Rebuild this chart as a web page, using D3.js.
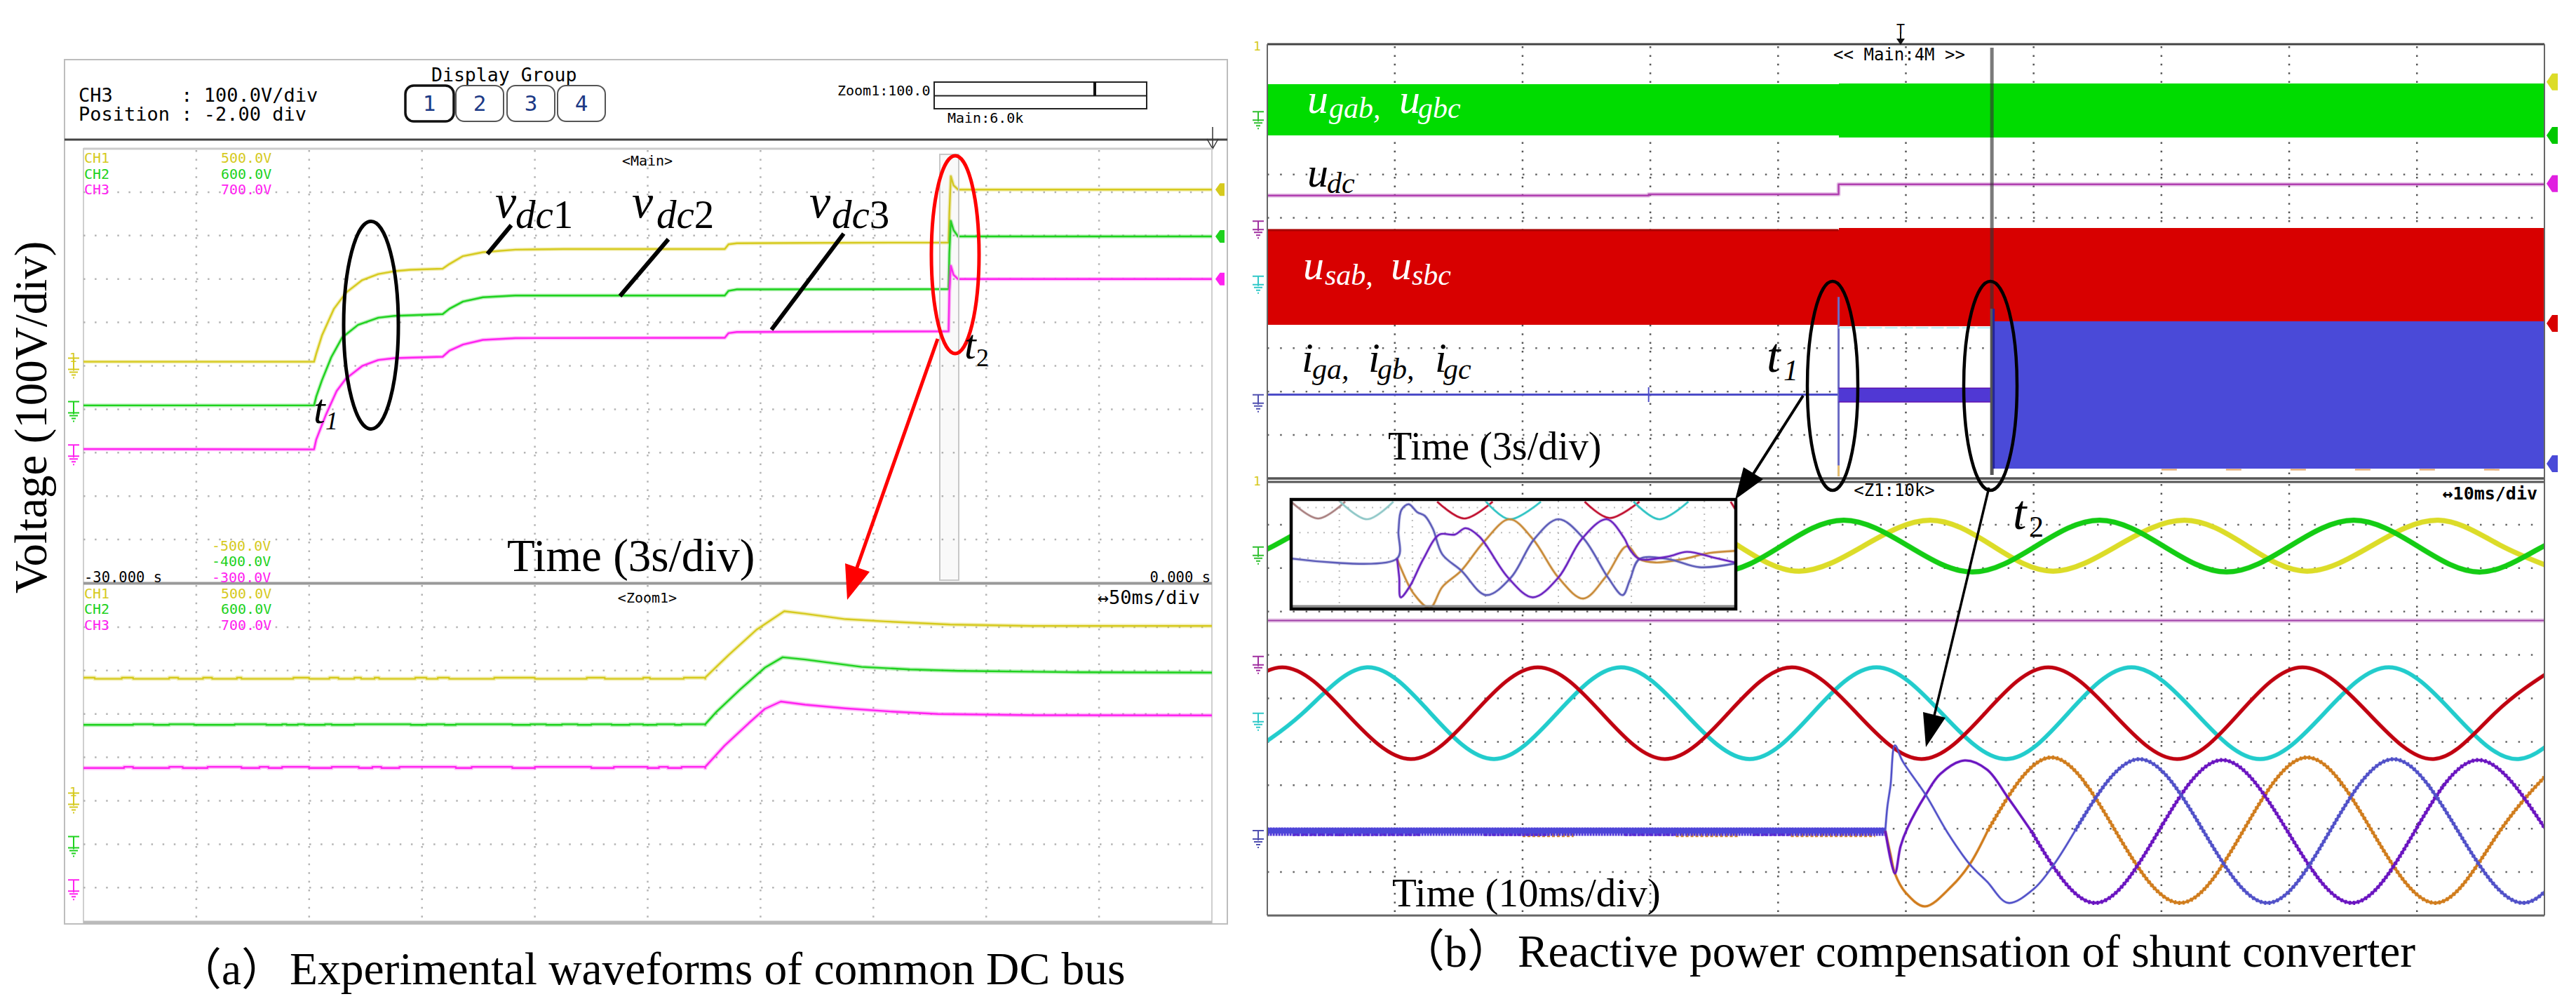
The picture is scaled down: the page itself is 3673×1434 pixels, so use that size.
<!DOCTYPE html>
<html><head><meta charset="utf-8">
<style>html,body{margin:0;padding:0;background:#fff}svg{display:block}text{white-space:pre}</style>
<script src="https://cdnjs.cloudflare.com/ajax/libs/d3/7.8.5/d3.min.js"></script>
</head><body><svg id="c" width="3673" height="1434"></svg>
<script>
// ---------- panel (a): overview record, seconds / volts ----------
const mainCh1T=[-30,-23.87,-23.81,-23.66,-23.34,-23.02,-22.59,-22.16,-21.73,-21.30,-20.45,-20.27,-19.91,-19.38,-18.52,-17.24,-12.95,-12.85,-12.63,-10.81,-7.00,-6.98,-6.94,-6.87,-6.75,0];
const mainCh1V=[9.5,9.5,28.5,69.7,131.5,168.6,197.4,211.5,218,221.4,223.8,234.5,252.7,261.7,267.5,269,269,279.9,282.3,283.2,284,350,436.5,415.9,406,406];
const mainCh2T=[-30,-23.87,-23.81,-23.66,-23.41,-23.12,-22.70,-22.16,-21.73,-20.45,-20.27,-19.91,-19.38,-18.52,-12.95,-12.85,-12.63,-7.00,-6.98,-6.94,-6.87,-6.75,0];
const mainCh2V=[8.9,8.9,29.5,66.6,120.2,165.5,194.4,210.9,215,219.1,231.5,248,257.9,262,262,272.7,276,276.8,359.3,433.5,412.8,398,398];
const mainCh3T=[-30,-23.87,-23.81,-23.55,-23.27,-23.02,-22.59,-22.16,-21.73,-20.45,-20.27,-19.91,-19.38,-18.52,-12.95,-12.85,-12.63,-7.00,-6.98,-6.94,-6.87,-6.75,0];
const mainCh3V=[8.4,7.6,30.6,88.3,141.9,170.8,199.6,213.6,217.7,221,235,249,259.8,263.9,264.7,275.4,277.9,279.6,368.6,430.4,409.8,399.9,399.9];
// ---------- panel (a): zoomed record, ms / volts ----------
const zoomCh1T=[25.5,28.7,35.9,48.4,60.5,69.8,87.6,105.5,134,169.7,250];
const zoomCh1V=[283.6,299.9,335.9,394.7,436.6,430.7,418.3,413,405.9,402.6,402.6];
const zoomCh2T=[25.5,30.5,41.2,51.9,59.8,69.8,94.8,116.2,137.6,191.1,250];
const zoomCh2V=[276.3,305.1,357.4,406.4,430.6,425.4,408.4,402.5,399.3,396,395.3];
const zoomCh3T=[25.5,34,44.8,51.9,59,69.8,87.6,109,128.6,171.5,250];
const zoomCh3V=[278.2,326.6,378.9,411.6,428.6,421.4,412.9,405.1,399.9,397.2,396.6];
const flatBumpsCh1=[[-250,-245],[-233,-228],[-212,-208],[-197,-193],[-182,-180],[-157,-150],[-141,-137],[-130,-127],[-121,-119],[-103,-98],[-93,-88],[-68,-50],[-27,-19],[-2,1],[16,25.5]];
const flatBumpsCh2=[[-228,-219],[-212,-201],[-183,-169],[-162,-160],[-155,-152],[-143,-140],[-130,-105],[-98,-90],[-85,-60],[-52,-45],[-38,-31],[-25,-16],[-8,-2],[4,12],[15,25.5]];
const flatBumpsCh3=[[-232,-228],[-212,-206],[-195,-180],[-172,-168],[-162,-150],[-140,-128],[-122,-118],[-110,-85],[-78,-60],[-50,-25],[-15,0],[5,9],[15,25.5]];
const flatLevels={ch1:[280.9,283.6],ch2:[275,276.3],ch3:[275.6,278.2]};
// ---------- panel (b): overview, seconds / divisions from the top ----------
const bandEdges=[-15,-1.58,15];
const greenBandTop=[0.92,0.897],greenBandBottom=[2.10,2.149];
const redBandTop=[4.28,4.226],redBandBottom=[6.46,6.49];
const dcT=[-15,-6.04,-6.04,-1.58,-1.58,15],dcDiv=[3.485,3.485,3.457,3.457,3.225,3.225];
const gridTimeEdges=[-1.58,2.0,2.05,15];
const currentFlatDiv=8.07,smallBandDiv=[7.92,8.24],largeBandDiv=[6.38,9.77];
// ---------- panel (b): zoomed, ms / divisions from the top ----------
const greenT=[-54.44,-49.5,-44.63,-39.6,-34.56,-29.65,-24.75,-19.7,-14.67,-9.75,-4.86,0.18,5.22,10.2,15.16,20.14,25.11,30.08,35.05,40.03,45.0,49.96,55];
const greenV=[2.09,1.49,0.9,1.49,2.09,1.49,0.9,1.49,2.09,1.49,0.896,1.49,2.09,1.49,0.896,1.49,2.09,1.49,0.896,1.49,2.09,1.49,0.9];
const yellowT=[-48.15,-43,-37.87,-33,-28.26,-23,-18.0,-13.2,-8.37,-3.2,1.9,6.7,11.52,16.65,21.79,26.6,31.4,36.55,41.68,46.5,51.29];
const yellowV=[2.07,1.47,0.9,1.47,2.07,1.47,0.9,1.47,2.07,1.47,0.896,1.47,2.07,1.47,0.896,1.47,2.07,1.47,0.896,1.47,2.07];
const redT=[-53.8,-48.81,-43.8,-38.74,-33.8,-28.8,-23.8,-18.86,-13.9,-8.92,-3.85,1.22,6.2,11.15,16.2,21.23,26.1,31.03,36.2,41.3,46.1,50.9];
const redV=[5.34,4.284,5.34,6.397,5.34,4.284,5.34,6.397,5.34,4.284,5.34,6.397,5.34,4.284,5.34,6.397,5.34,4.284,5.34,6.397,5.34,4.284];
const cyanT=[-52.2,-47.2,-42.18,-37.2,-32.24,-27.3,-22.3,-17.3,-12.23,-7.3,-2.3,2.8,7.84,12.7,17.65,22.7,27.72,32.75,37.79,42.85,47.93,52.9,57.9];
const cyanV=[6.397,5.34,4.284,5.34,6.397,5.34,4.284,5.34,6.397,5.34,4.284,5.34,6.397,5.34,4.284,5.34,6.397,5.34,4.284,5.34,6.397,5.34,4.284];
const dcZoomDiv=3.208;
const purpleStartT=[-1.61,-0.86,-0.42,0.13,1.55,2.7,4.6,6.35,8,9.8];
const purpleStartV=[8.05,9.03,8.41,7.98,7.22,6.74,6.43,6.64,7.29,8.05];
const purpleT=[9.8,14.83,19.8,24.77,29.85,34.92,39.85,44.79,50.03];
const purpleV=[8.05,9.71,8.05,6.42,8.05,9.71,8.05,6.42,8.0];
const blueStartT=[-1.61,-1.45,-1.2,-0.86,-0.25,1.55,3.26,5,6.35,8,10,11.55,13.24];
const blueStartV=[8.05,7.5,7.0,6.08,6.45,7.22,8.09,8.82,9.22,9.71,9.39,8.84,8.05];
const blueT=[13.24,18.28,23.28,28.29,33.2,38.16,43.2,48.3,53.2];
const blueV=[8.05,6.4,8.05,9.71,8.05,6.4,8.05,9.71,8.05];
const orangeStartT=[-1.61,-1.2,-0.86,0,1.5,3.6,5,6.4];
const orangeStartV=[8.05,8.6,9.03,9.48,9.79,9.32,8.82,8.05];
const orangeT=[6.4,11.4,16.4,21.46,26.4,31.4,36.47,41.54,46.5,51.5];
const orangeV=[8.05,6.36,8.05,9.71,8.05,6.36,8.05,9.71,8.05,6.36];
const idleT=[-50,-1.61],idlePurple=8.07,idleBlue=8.05;
const idleOrangeSpans=[[-30,-26],[-18,-13],[-9,-7],[-7.1,-2.4]],idlePurpleSpans=[[-48,-44],[-44.5,-38],[-33,-28],[-22,-18],[-12,-9]];
// ---------- inset of panel (b): divisions ----------
const insetRed=[[[0,0.09],[0.37,0.77],[0.74,0.09]],[[2,0.09],[2.37,0.77],[2.76,0.09]],[[4.02,0.09],[4.36,0.75],[4.77,0.09]],[[6.02,0.09],[6.08,0.38]]];
const insetCyan=[[[0.67,0.09],[1.04,0.8],[1.40,0.09]],[[2.67,0.09],[2.99,0.8],[3.42,0.09]],[[4.69,0.09],[5.04,0.8],[5.44,0.09]]];
const insetBlueX=[0,1.45,1.47,1.51,1.61,1.73,1.83,1.94,2.07,2.33,2.67,3.01,3.33,3.66,4.0,4.34,4.54,4.64,4.77,5.16,5.59,6.08];
const insetBlueY=[2.39,2.39,1.27,0.42,0.19,0.52,0.66,1.18,2.22,2.88,3.87,3.16,1.60,0.80,1.56,3.16,3.87,3.25,2.41,2.41,2.74,2.59];
const insetPurpleX=[1.45,1.48,1.50,1.62,1.81,2.03,2.24,2.39,2.58,2.97,3.31,3.66,3.98,4.32,4.56,4.64,4.77,5.16,5.42,5.80,6.08];
const insetPurpleY=[2.39,3.16,3.96,3.54,2.41,1.42,1.42,1.16,1.51,3.16,3.96,3.16,1.60,0.80,1.56,2.03,2.41,2.31,2.12,2.36,2.55];
const insetOrangeX=[1.45,1.49,1.68,1.90,2.07,2.33,2.63,2.99,3.31,3.66,4.0,4.30,4.60,4.77,4.99,5.37,5.72,6.08];
const insetOrangeY=[2.39,2.69,3.82,4.39,3.54,2.88,1.75,0.80,1.60,3.16,4.01,3.16,1.89,2.41,2.55,2.41,2.17,2.08];
// ---------- labels ----------
const channelNames=["CH1","CH2","CH3"],topVolts=["500.0V","600.0V","700.0V"],bottomVolts=["-500.0V","-400.0V","-300.0V"];
const buttons=["1","2","3","4"];

const svg=d3.select("#c");
const COL={y:"#d6ca1e",g:"#1ed21e",m:"#ff22f0"};
const serif="'Liberation Serif','Noto Sans CJK SC',serif",mono="'DejaVu Sans Mono',monospace";
function T(x,y,s,o={}){const t=svg.append("text").attr("x",x).attr("y",y).text(s)
  .attr("font-family",o.f||mono).attr("font-size",o.s||20).attr("fill",o.c||"#000");
  if(o.i)t.attr("font-style","italic"); if(o.a)t.attr("text-anchor",o.a); if(o.w)t.attr("font-weight",o.w);
  if(o.r!=null)t.attr("transform",`rotate(${o.r} ${x} ${y})`); return t;}
function L(x1,y1,x2,y2,c,w,d){const l=svg.append("line").attr("x1",x1).attr("y1",y1).attr("x2",x2).attr("y2",y2).attr("stroke",c).attr("stroke-width",w);if(d)l.attr("stroke-dasharray",d);return l;}
function pair(a,b){return a.map((v,i)=>[v,b[i]]);}
function P(pts,lx,c,w,halo,clip,rip){const p=svg.append("g");if(clip)p.attr("clip-path",`url(#${clip})`);
  if(halo)p.append("path").attr("d",lx(pts)).attr("fill","none").attr("stroke",c).attr("stroke-opacity",.3).attr("stroke-width",w+halo).attr("stroke-linejoin","round");
  if(rip)p.append("path").attr("d",lx(pts)).attr("fill","none").attr("stroke",c).attr("stroke-width",w+rip).attr("stroke-dasharray","2.5 3.5");
  p.append("path").attr("d",lx(pts)).attr("fill","none").attr("stroke",c).attr("stroke-width",w).attr("stroke-linejoin","round");}
function clip(id,x,y,w,h){svg.append("clipPath").attr("id",id).append("rect").attr("x",x).attr("y",y).attr("width",w).attr("height",h);}
function ell(cx,cy,rx,ry,c,w){svg.append("ellipse").attr("cx",cx).attr("cy",cy).attr("rx",rx).attr("ry",ry).attr("fill","none").attr("stroke",c).attr("stroke-width",w);}
function poly(pts,c){svg.append("polygon").attr("points",pts.join(" ")).attr("fill",c);}
function gnd(x,y,c,h=22){const g=svg.append("g").attr("stroke",c).attr("stroke-width",2).attr("fill","none");
  g.append("path").attr("d",`M${x-8} ${y-h/2}H${x+8}M${x} ${y-h/2}V${y+h/2-4}M${x-8} ${y+h/2-6}H${x+8}M${x-6} ${y+h/2-2}H${x+6}M${x-3} ${y+h/2+2}H${x+3}M${x-1} ${y+h/2+6}H${x+1}`);}
function tag(x,y,c,dir,sz=12,w=15){const d=dir*w;poly([[x,y],[x+d*.5,y-sz],[x+d,y-sz],[x+d,y+sz],[x+d*.5,y+sz]],c);}
clip("cTop",119,212,1609,619);clip("cLow",119,832,1609,483);
clip("bTop",1807,63,1822,619);clip("bLow",1807,687,1822,618);

// ================= PANEL (a) =================
svg.append("rect").attr("x",92).attr("y",85).attr("width",1658).attr("height",1232).attr("fill","none").attr("stroke","#bdbdbd").attr("stroke-width",2);
L(92,199,1750,199,"#444",3);
T(112,145,"CH3      : 100.0V/div",{s:27});
T(112,172,"Position : -2.00 div",{s:27});
T(615,116,"Display Group",{s:26.5});
const btnX=[578,650,723,795];
btnX.forEach((x,i)=>{svg.append("rect").attr("x",x).attr("y",122).attr("width",i?68:69).attr("height",51).attr("rx",12).attr("fill","#fff").attr("stroke",i?"#555":"#111").attr("stroke-width",i?2:3.5);
 T(x+34,158,buttons[i],{s:31,a:"middle",c:"#1c3a86"});});
T(1194,135.5,"Zoom1:100.0",{s:20});T(1351,175,"Main:6.0k",{s:20});
svg.append("rect").attr("x",1332).attr("y",117).attr("width",303).attr("height",38).attr("fill","#fff").attr("stroke","#222").attr("stroke-width",2);
L(1332,136.5,1635,136.5,"#222",2);L(1561,117,1561,136.5,"#111",4);
L(1729,181,1729,212,"#333",1.5);svg.append("path").attr("d","M1721 198L1729 212L1737 198").attr("fill","none").attr("stroke","#333").attr("stroke-width",1.5);

svg.append("rect").attr("x",119).attr("y",212).attr("width",1609).attr("height",1103).attr("fill","none").attr("stroke","#cfcfcf").attr("stroke-width",2);
const xDiv=d3.range(1,10),leftX=d3.scaleLinear().domain([0,10]).range([119,1728]);
const leftYMain=d3.scaleLinear().domain([0,10]).range([212,831]),leftYLow=d3.scaleLinear().domain([0,10]).range([832,1451]);
xDiv.forEach(d=>{L(leftX(d),214,leftX(d),829,"#b4b4b4",2.5,"2.5 9.9");L(leftX(d),834,leftX(d),1312,"#b4b4b4",2.5,"2.5 9.9");
 L(119,leftYMain(d),1728,leftYMain(d),"#b4b4b4",2.5,"2.5 13.6");
 if(leftYLow(d)<1312)L(119,leftYLow(d),1728,leftYLow(d),"#b4b4b4",2.5,"2.5 13.6");});
L(119,831.5,1728,831.5,"#999",4);L(119,1315,1728,1315,"#bbb",5);L(119,212,1728,212,"#ccc",3);

const tMain=d3.scaleLinear().domain([-30,0]).range([119,1728]),tZoom=d3.scaleLinear().domain([-250,250]).range([119,1728]);
const topsV=[500,600,700];
const yM=topsV.map(t=>d3.scaleLinear().domain([t,t-1000]).range([212,831]));
const yZ=topsV.map(t=>d3.scaleLinear().domain([t,t-1000]).range([832,1451]));
const cols=[COL.y,COL.g,COL.m];
function stepFlat(b,lv){const o=[[-250,lv[0]]];b.forEach(([a,e])=>{o.push([a,lv[0]],[a,lv[1]],[e,lv[1]],[e,lv[0]]);});return o;}
[[mainCh1T,mainCh1V],[mainCh2T,mainCh2V],[mainCh3T,mainCh3V]].forEach(([t,v],i)=>{
 P(pair(t,v),d3.line().x(d=>tMain(d[0])).y(d=>yM[i](d[1])),cols[i],2.4,3,"cTop");});
[[zoomCh1T,zoomCh1V,flatBumpsCh1,flatLevels.ch1],[zoomCh2T,zoomCh2V,flatBumpsCh2,flatLevels.ch2],[zoomCh3T,zoomCh3V,flatBumpsCh3,flatLevels.ch3]].forEach(([t,v,b,l],i)=>{
 P(stepFlat(b,l).concat(pair(t,v)),d3.line().x(d=>tZoom(d[0])).y(d=>yZ[i](d[1])),cols[i],2.4,3.5,"cLow");});
[232,255,277].forEach((y,i)=>{T(120,y,channelNames[i],{c:cols[i],s:20});T(315,y,topVolts[i],{c:cols[i],s:20});});
[852.6,875,898].forEach((y,i)=>{T(120,y,channelNames[i],{c:cols[i],s:20});T(315,y,topVolts[i],{c:cols[i],s:20});});
[784.5,807,830].forEach((y,i)=>{T(302,y,bottomVolts[i],{c:cols[i],s:20});});
T(923,236,"<Main>",{a:"middle",s:20});T(923,859,"<Zoom1>",{a:"middle",s:20});
T(120,830,"-30.000 s",{s:20.5});T(1726,830,"0.000 s",{s:20.5,a:"end"});
T(1711,861,"↔50ms/div",{s:27,a:"end"});
svg.append("rect").attr("x",1340).attr("y",220).attr("width",27).attr("height",607).attr("fill","#999").attr("fill-opacity",.06).attr("stroke","#c8c8c8").attr("stroke-width",2);
topsV.forEach((t,i)=>{gnd(105,yM[i](0),cols[i]);gnd(105,yZ[i](0),cols[i]);});
T(99,516,"1",{s:18,c:COL.y});T(99,1135,"1",{s:18,c:COL.y});
[mainCh1V,mainCh2V,mainCh3V].forEach((v,i)=>tag(1733,yM[i](v[v.length-1]),cols[i],1,9,13));
T(66,846,"Voltage (100V/div)",{f:serif,s:65,r:-90});
T(723,814,"Time (3s/div)",{f:serif,s:65});
[[706,735,"dc","1"],[901,936,"dc","2"],[1154,1186,"dc","3"]].forEach(([a,b,s,n])=>{T(a,310,"v",{f:serif,s:68,i:1});
 const t=T(b,325,s,{f:serif,s:57,i:1});t.append("tspan").attr("font-style","normal").text(n);});
L(729,321,695,362,"#000",6);L(953,341,884,422,"#000",6);L(1203,333,1100,470,"#000",6);
ell(529,463.5,39,148,"#000",5);ell(1362,363,34,141,"#f00",5);
T(447,603,"t",{f:serif,s:60,i:1});T(464,612,"1",{f:serif,s:36,i:1});
T(1375,511,"t",{f:serif,s:60,i:1});T(1392,522,"2",{f:serif,s:36});
L(1337,483,1218,820,"#f00",5);poly([[1208,855],[1205,803],[1240,815]],"#f00");
T(253,1403,"（a）",{f:serif,s:63});T(413,1403,"Experimental waveforms of common DC bus",{f:serif,s:65.5});

// ================= PANEL (b) =================
const rX=d3.scaleLinear().domain([0,10]).range([1806.6,3628.4]);
const rYM=d3.scaleLinear().domain([0,10]).range([63,682]),rYL=d3.scaleLinear().domain([0,10]).range([686,1305]);
const tB=d3.scaleLinear().domain([-15,15]).range([1806.6,3628.4]),tBz=d3.scaleLinear().domain([-50,50]).range([1806.6,3628.4]);
xDiv.forEach(d=>{L(rX(d),66,rX(d),680,"#555",2.5,"2.5 9.9");L(rX(d),690,rX(d),1303,"#555",2.5,"2.5 9.9");
 L(1807,rYM(d),3628,rYM(d),"#666",2.5,"2.5 15.7");L(1807,rYL(d),3628,rYL(d),"#666",2.5,"2.5 15.7");});
function band(a,b,top,bot,c){svg.append("rect").attr("x",Math.round(tB(a))).attr("width",Math.round(tB(b))-Math.round(tB(a))).attr("y",rYM(top)).attr("height",rYM(bot)-rYM(top)).attr("fill",c).attr("shape-rendering","crispEdges");}
band(bandEdges[0],bandEdges[1],greenBandTop[0],greenBandBottom[0],"#00dc00");
band(bandEdges[1],bandEdges[2],greenBandTop[1],greenBandBottom[1],"#00dc00");
band(bandEdges[0],bandEdges[1],redBandTop[0],redBandBottom[0],"#d80000");
band(bandEdges[1],bandEdges[2],redBandTop[1],redBandBottom[1],"#d80000");
L(tB(-15),rYM(4.28),tB(-1.58),rYM(4.28),"#a80000",3);
P(pair(dcT,dcDiv),d3.line().x(d=>tB(d[0])).y(d=>rYM(d[1])),"#b040b0",2.5,3.5);
L(tB(-15),rYM(currentFlatDiv),tB(gridTimeEdges[0]),rYM(currentFlatDiv),"#4c4cc8",3);
L(tB(-6.04),rYM(7.9),tB(-6.04),rYM(8.24),"#5050c8",2);
L(tB(gridTimeEdges[0]),rYM(5.82),tB(gridTimeEdges[0]),rYM(9.95),"#6a6ac4",3);
L(tB(gridTimeEdges[0]),rYM(9.7),tB(gridTimeEdges[0]),rYM(9.95),"#e8c070",3);
L(tB(-1.58),rYM(6.53),tB(2.0),rYM(6.53),"#b4ecf2",2,"18 4");
band(gridTimeEdges[0],gridTimeEdges[1],smallBandDiv[0],smallBandDiv[1],"#5038d4");
L(tB(-1.58),rYM(7.92),tB(2.0),rYM(7.92),"#5a10b0",1.5);
L(tB(-1.58),rYM(8.24),tB(2.0),rYM(8.24),"#6010b0",1.5);
band(gridTimeEdges[2],gridTimeEdges[3],largeBandDiv[0],largeBandDiv[1],"#4a4ad8");
L(tB(6),rYM(9.8),tB(15),rYM(9.8),"#e0a060",2,"22 70");
// zoom window line, see-through over the bands
L(tB(2.02),68,tB(2.02),440,"#333",5).attr("stroke-opacity",.65);
L(tB(2.02),440,tB(2.02),677,"#555",5);L(tB(2.02)+2.5,440,tB(2.02)+2.5,668,"#24249a",3);
// zoomed waves
const lN=d3.line().curve(d3.curveNatural).x(d=>tBz(d[0])).y(d=>rYL(d[1]));
const lC=d3.line().curve(d3.curveCatmullRom.alpha(.5)).x(d=>tBz(d[0])).y(d=>rYL(d[1]));
P(pair(yellowT,yellowV),lN,"#dcdc28",7,1,"bLow");P(pair(greenT,greenV),lN,"#14cc14",7,1,"bLow");
L(1807,rYL(dcZoomDiv),3628,rYL(dcZoomDiv),"#e8c8e8",6);L(1807,rYL(dcZoomDiv),3628,rYL(dcZoomDiv),"#a040a8",2);
P(pair(cyanT,cyanV),lN,"#22cccc",5.5,1,"bLow");P(pair(redT,redV),lN,"#c00010",5,1,"bLow");
idleOrangeSpans.forEach(s=>L(tBz(s[0]),rYL(8.14),tBz(s[1]),rYL(8.14),"#d8882c",7,"4 3"));
idlePurpleSpans.forEach(s=>L(tBz(s[0]),rYL(8.12),tBz(s[1]),rYL(8.12),"#6a18c4",6,"4 2"));
L(tBz(idleT[0]),rYL(idlePurple),tBz(idleT[1]),rYL(idlePurple),"#5034d8",12,"3 1");
L(tBz(idleT[0]),rYL(idleBlue),tBz(idleT[1]),rYL(idleBlue),"#4c46d8",8);
P(pair(orangeStartT,orangeStartV),lC,"#d07c1c",3,1.5,"bLow");P(pair(orangeT,orangeV),lN,"#d07c1c",3.4,1.5,"bLow",2.5);
P(pair(purpleStartT,purpleStartV),lC,"#6a14c0",3,1.5,"bLow");P(pair(purpleT,purpleV),lN,"#6a14c0",3.4,1.5,"bLow",2.5);
P(pair(blueStartT,blueStartV),lC,"#5050c8",2.4,1.5,"bLow");P(pair(blueT,blueV),lN,"#5050c8",3.4,1.5,"bLow",2.5);
// frames
L(1807,63,3628,63,"#444",3);L(1807,682,3628,682,"#555",3.5);L(1807,687,3628,687,"#555",3);L(1807,1305,3628,1305,"#666",3);
L(1807,63,1807,1305,"#666",2);L(3628,63,3628,1305,"#666",2);
T(2708,86,"<< Main:4M >>",{s:24,a:"middle"});T(2701,707,"<Z1:10k>",{s:24,a:"middle"});T(3618,712,"↔10ms/div",{s:25,a:"end",w:"bold"});
T(2710,48,"T",{s:20,a:"middle"});L(2710,46,2710,58,"#111",2);poly([[2704,55],[2716,55],[2710,64]],"#111");
const rightDiv=[[.87,"#dcdc28"],[2.1,"#00c800"],[3.21,"#e020e0"],[6.43,"#d80000"],[9.66,"#4a4ad8"]];
rightDiv.forEach(([d,c])=>tag(3631,rYM(d),c,1,12,16));
[[1.70,"#30c030"],[4.22,"#a030a0"],[5.49,"#30c8c8"],[8.22,"#5050b0"]].forEach(([d,c])=>gnd(1794,rYM(d),c,18));
[[1.66,"#30c030"],[4.18,"#a030a0"],[5.49,"#30c8c8"],[8.19,"#5050b0"]].forEach(([d,c])=>gnd(1794,rYL(d),c,18));
T(1787,72,"1",{s:18,c:"#d6ca1e"});T(1787,692,"1",{s:18,c:"#d6ca1e"});
// inset
const iX=d3.scaleLinear().domain([0,6.09]).range([1841,2475]),iY=d3.scaleLinear().domain([0,4.43]).range([712,868]);
clip("inset",1841,712,634,156);
svg.append("rect").attr("x",1841).attr("y",712).attr("width",634).attr("height",156).attr("fill","#fff");
[1,2,3,4,5,6].forEach(d=>L(iX(d-.34),714,iX(d-.34),866,"#bbb",2,"2 7"));
[.33,1.34,2.37,3.33].forEach(d=>L(1841,iY(d),2475,iY(d),"#bbb",2,"2 9.5"));
const lI=d3.line().curve(d3.curveCatmullRom.alpha(.5)).x(d=>iX(d[0])).y(d=>iY(d[1]));
insetRed.forEach((s,i)=>P(s,lI,i?"#c01030":"#a98080",2.4,1.5,"inset"));
insetCyan.forEach((s,i)=>P(s,lI,i?"#30c4c4":"#90c8c8",2.4,1.5,"inset"));
P(pair(insetOrangeX,insetOrangeY),lI,"#c88a38",2.4,2,"inset");
P(pair(insetBlueX,insetBlueY),lI,"#5c5cb8",2.4,2,"inset");
P(pair(insetPurpleX,insetPurpleY),lI,"#6a22c0",2.4,2,"inset");
L(1841,864,2475,864,"#888",3);
svg.append("rect").attr("x",1841).attr("y",712).attr("width",634).attr("height",156).attr("fill","none").attr("stroke","#000").attr("stroke-width",4.5);
// labels
const W="#fff";
[[1864,161,"u",W],[1995,161,"u",W],[1864,266,"u","#000"],[1858,398,"u",W],[1983,398,"u",W]].forEach(([x,y,s,c])=>T(x,y,s,{f:serif,s:60,i:1,c}));
[[1895,168,"gab,",W],[2022,168,"gbc",W],[1892,275,"dc","#000"],[1889,406,"sab,",W],[2013,406,"sbc",W]].forEach(([x,y,s,c])=>T(x,y,s,{f:serif,s:42,i:1,c}));
[[1856,530,"i"],[1951,530,"i"],[2046,530,"i"]].forEach(([x,y,s])=>T(x,y,s,{f:serif,s:60,i:1}));
[[1871,540,"ga,"],[1964,540,"gb,"],[2058,540,"gc"]].forEach(([x,y,s])=>T(x,y,s,{f:serif,s:42,i:1}));
T(1979,655,"Time (3s/div)",{f:serif,s:56});
T(1985,1292,"Time (10ms/div)",{f:serif,s:57});
T(2519,530,"t",{f:serif,s:70,i:1});T(2543,542,"1",{f:serif,s:42,i:1});
T(2870,754,"t",{f:serif,s:70,i:1});T(2893,765,"2",{f:serif,s:42});
ell(2613,550,36,149,"#000",4.5);ell(2838,550,38,149,"#000",4.5);
L(2571,564,2497,680,"#000",4);
poly([[2474,712],[2486,666],[2514,683]],"#000");
L(2836,695,2758,1020,"#000",3.5);poly([[2746,1065],[2742,1015],[2774,1023]],"#000");
T(1996,1378,"（b）",{f:serif,s:64});T(2164,1378,"Reactive power compensation of shunt converter",{f:serif,s:65.4});
</script></body></html>
